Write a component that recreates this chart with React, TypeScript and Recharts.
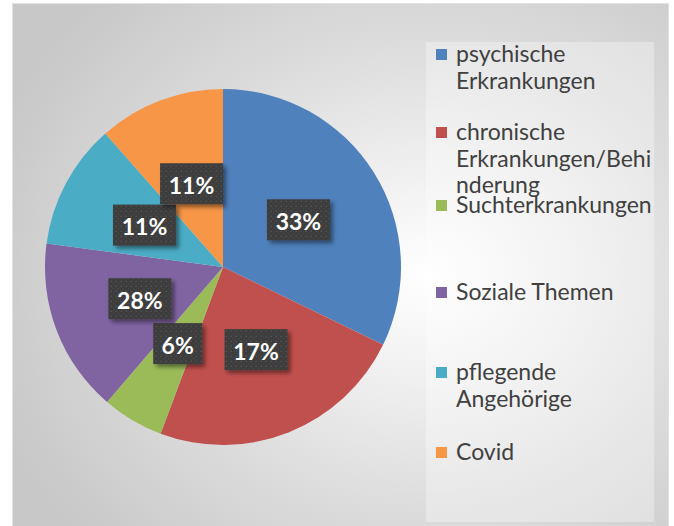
import React from "react";
import { PieChart, Pie, Cell, Legend } from "recharts";

const categories = [
  "psychische Erkrankungen",
  "chronische Erkrankungen/Behinderung",
  "Suchterkrankungen",
  "Soziale Themen",
  "pflegende Angehörige",
  "Covid",
];
const sliceValues = [32.2, 23.5, 5.6, 15.8, 11.4, 11.5];
const labelTexts = ["33%", "17%", "6%", "28%", "11%", "11%"];
const legendLines = [
  ["psychische", "Erkrankungen"],
  ["chronische", "Erkrankungen/Behi", "nderung"],
  ["Suchterkrankungen"],
  ["Soziale Themen"],
  ["pflegende", "Angehörige"],
  ["Covid"],
];
const colors = ["#4F81BD", "#C0504D", "#9BBB59", "#8064A2", "#4BACC6", "#F79646"];

const data = categories.map((name, i) => ({ name, value: sliceValues[i] }));

const RAD = Math.PI / 180;
const legendTops = [-2, 76, 149, 236, 316, 396];

const renderLabel = (props: any) => {
  const { cx, cy, midAngle, outerRadius, index } = props;
  const r = outerRadius * 0.5;
  const x = cx + r * Math.cos(-midAngle * RAD);
  const y = cy + r * Math.sin(-midAngle * RAD);
  const text = labelTexts[index];
  const digits = text.length - 1;
  const w = 18 + 14 * digits + 17;
  const h = 41;
  return (
    <g key={"lbl" + index}>
      <rect x={x - w / 2} y={y - h / 2} width={w} height={h} fill="url(#dots)" filter="url(#lblShadow)" />
      <text
        x={x}
        y={y + 1}
        textAnchor="middle"
        dominantBaseline="central"
        fill="#ffffff"
        fontFamily="Lato"
        fontWeight="bold"
        fontSize={23}
      >
        {text}
      </text>
    </g>
  );
};

const renderLegend = () => {
  return (
    <div
      style={{
        position: "relative",
        width: 228,
        height: 480,
        background: "rgba(255,255,255,0.32)",
        fontFamily: "Lato",
        fontSize: 23,
        color: "#404040",
      }}
    >
      {categories.map((name, i) => (
        <div key={name} style={{ position: "absolute", left: 0, top: legendTops[i], width: 228 }}>
          <div
            style={{
              position: "absolute",
              left: 10,
              top: 9,
              width: 11,
              height: 11,
              background: colors[i],
            }}
          />
          <div style={{ position: "absolute", left: 30, top: 0, lineHeight: "26.7px", whiteSpace: "nowrap" }}>
            {legendLines[i].map((l, j) => (
              <div key={j}>{l}</div>
            ))}
          </div>
        </div>
      ))}
    </div>
  );
};

export default function App() {
  return (
    <div
      style={{
        position: "absolute",
        left: 0,
        top: 0,
        width: 674,
        height: 526,
        overflow: "hidden",
        background: "#ffffff",
      }}
    >
      <style>{`.recharts-pie-sectors{filter: drop-shadow(0px 4px 7px rgba(0,0,0,0.22));}`}</style>
      <svg width={0} height={0} style={{ position: "absolute" }}>
        <defs>
          <pattern id="dots" width={5} height={5} patternUnits="userSpaceOnUse">
            <rect width={5} height={5} fill="#3d3d3d" />
            <circle cx={1.2} cy={1.2} r={0.8} fill="#555555" />
            <circle cx={3.7} cy={3.7} r={0.6} fill="#4a4a4a" />
          </pattern>
          <filter id="lblShadow" x="-20%" y="-20%" width="150%" height="160%">
            <feDropShadow dx={3} dy={3} stdDeviation={2} floodColor="#000000" floodOpacity={0.45} />
          </filter>
        </defs>
      </svg>
      <div
        style={{
          position: "absolute",
          left: 12,
          top: 3,
          width: 657,
          height: 523,
          boxSizing: "border-box",
          borderTop: "1px solid #e2e2e2",
          borderLeft: "1px solid #e2e2e2",
          borderRight: "1px solid #e2e2e2",
          background:
            "radial-gradient(ellipse 70% 75% at 63% 52%, #ffffff 0%, #eeeeee 30%, #dcdcdc 60%, #c8c8c8 100%)",
        }}
      />
      <div style={{ position: "absolute", left: 0, top: 0 }}>
        <PieChart width={674} height={526} margin={{ top: 0, right: 0, bottom: 0, left: 0 }}>
          <Pie
            data={data}
            dataKey="value"
            nameKey="name"
            cx={223}
            cy={267}
            outerRadius={178}
            startAngle={90}
            endAngle={-270}
            stroke="none"
            label={renderLabel}
            labelLine={false}
            isAnimationActive={false}
          >
            {data.map((_, i) => (
              <Cell key={i} fill={colors[i]} />
            ))}
          </Pie>
          <Legend
            content={renderLegend}
            layout="vertical"
            align="right"
            verticalAlign="top"
            wrapperStyle={{ position: "absolute", left: 426, top: 42, width: 228, height: 480 }}
          />
        </PieChart>
      </div>
    </div>
  );
}
